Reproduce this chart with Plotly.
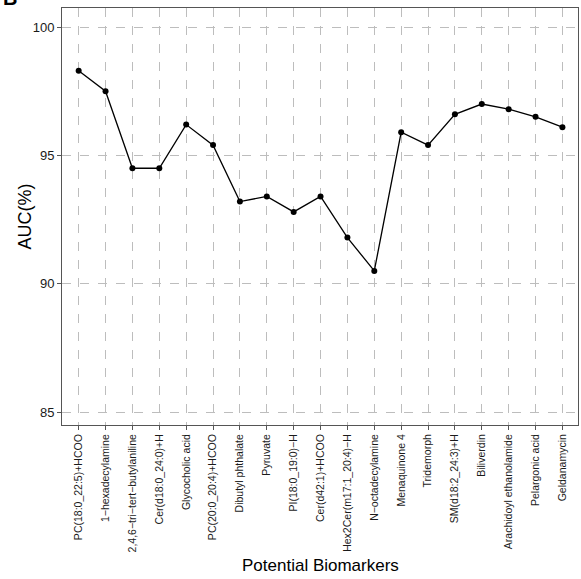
import plotly.graph_objects as go

categories = [
    "PC(18:0_22:5)+HCOO", "1−hexadecylamine", "2,4,6−tri−tert−butylaniline",
    "Cer(d18:0_24:0)+H", "Glycocholic acid", "PC(20:0_20:4)+HCOO",
    "Dibutyl phthalate", "Pyruvate", "PI(18:0_19:0)−H", "Cer(d42:1)+HCOO",
    "Hex2Cer(m17:1_20:4)−H", "N−octadecylamine", "Menaquinone 4", "Tridemorph",
    "SM(d18:2_24:3)+H", "Biliverdin", "Arachidoyl ethanolamide",
    "Pelargonic acid", "Geldanamycin",
]
auc = [98.3, 97.5, 94.5, 94.5, 96.2, 95.4, 93.2, 93.4, 92.8, 93.4,
       91.8, 90.5, 95.9, 95.4, 96.6, 97.0, 96.8, 96.5, 96.1]
y_ticks = [85, 90, 95, 100]

fig = go.Figure()
fig.add_trace(go.Scatter(
    x=list(range(len(categories))), y=auc, mode="lines+markers",
    line=dict(color="black", width=1.3),
    marker=dict(color="black", size=6),
    showlegend=False,
))

grid = dict(showgrid=True, gridcolor="#bdbdbd", griddash="dash", gridwidth=1)
fig.update_xaxes(
    tickmode="array", tickvals=list(range(len(categories))), ticktext=categories,
    tickangle=-90, range=[-0.62, 18.58], zeroline=False, automargin=False,
    showline=True, linecolor="#555555", mirror=True, linewidth=1,
    ticks="outside", ticklen=4, tickcolor="#555555",
    tickfont=dict(family="Liberation Sans, Arial", size=10.5, color="#1a1a1a"),
    **grid,
)
fig.update_yaxes(
    tickmode="array", tickvals=y_ticks, range=[84.5, 100.74], zeroline=False,
    automargin=False,
    showline=True, linecolor="#555555", mirror=True, linewidth=1,
    ticks="outside", ticklen=4, tickcolor="#555555",
    tickfont=dict(family="Liberation Sans, Arial", size=13, color="#1a1a1a"),
    **grid,
)
fig.add_annotation(
    text="Potential Biomarkers", xref="paper", yref="paper", x=0.5, y=0,
    yshift=-140, xanchor="center", yanchor="middle", showarrow=False,
    font=dict(family="Liberation Sans, Arial", size=17, color="black"),
)
fig.add_annotation(
    text="AUC(%)", xref="paper", yref="paper", x=0, y=0.5, xshift=-38,
    textangle=-90, xanchor="center", yanchor="middle", showarrow=False,
    font=dict(family="Liberation Sans, Arial", size=18, color="black"),
)
fig.add_annotation(
    text="<b>B</b>", xref="paper", yref="paper", x=0, y=1, xshift=-61, yshift=-3,
    xanchor="left", yanchor="bottom", showarrow=False,
    font=dict(family="Liberation Sans, Arial", size=20, color="black"),
)
fig.update_layout(
    width=581, height=579, plot_bgcolor="white", paper_bgcolor="white",
    margin=dict(l=62, r=3, t=8, b=154, autoexpand=False),
)
fig.write_html("out.html", config={"displayModeBar": False},
               post_script="document.body.style.margin='0';document.body.style.overflow='hidden';")
